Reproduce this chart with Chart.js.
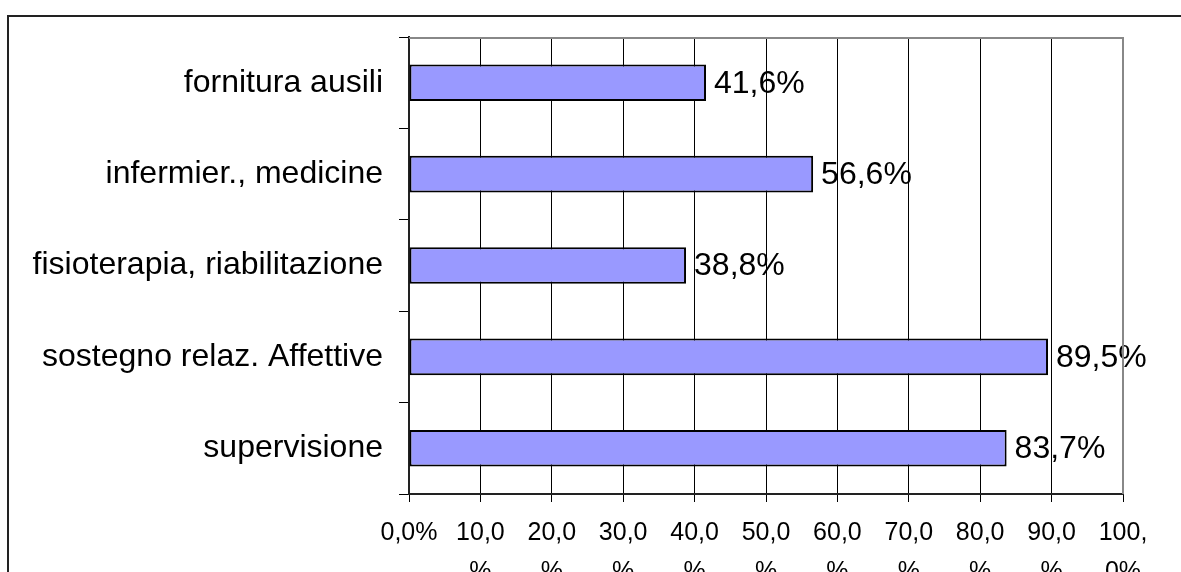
<!DOCTYPE html>
<html>
<head>
<meta charset="utf-8">
<script src="https://cdn.jsdelivr.net/npm/chart.js@4"></script>
<style>
  body { margin: 0; background: #fff; }
  #wrap { width: 1181px; height: 572px; }
</style>
</head>
<body>
<div id="wrap"><canvas id="myChart" width="1181" height="572"></canvas></div>
<script>
const categories = [
    'fornitura ausili',
    'infermier., medicine',
    'fisioterapia, riabilitazione',
    'sostegno relaz. Affettive',
    'supervisione'
];
const values = [41.6, 56.6, 38.8, 89.5, 83.7];
const xTickLabels = [
    '0,0%', ['10,0', '%'], ['20,0', '%'], ['30,0', '%'], ['40,0', '%'], ['50,0', '%'],
    ['60,0', '%'], ['70,0', '%'], ['80,0', '%'], ['90,0', '%'], ['100,', '0%']
];

const fontFamily = "'Liberation Sans', Arial, sans-serif";

// outer frame (top + left edge) and the gray plot border on top/right
const framePlugin = {
    id: 'frame',
    beforeDraw(chart) {
        const ctx = chart.ctx;
        ctx.save();
        ctx.fillStyle = '#fff';
        ctx.fillRect(0, 0, chart.width, chart.height);
        ctx.strokeStyle = '#222';
        ctx.lineWidth = 2;
        ctx.beginPath();
        ctx.moveTo(8, chart.height);
        ctx.lineTo(8, 16);
        ctx.lineTo(chart.width, 16);
        ctx.stroke();
        ctx.restore();
    },
    afterDraw(chart) {
        const a = chart.chartArea;
        const ctx = chart.ctx;
        ctx.save();
        ctx.strokeStyle = '#888';
        ctx.lineWidth = 2;
        ctx.beginPath();
        ctx.moveTo(a.left, a.top + 1);
        ctx.lineTo(a.right, a.top + 1);
        ctx.lineTo(a.right, a.bottom);
        ctx.stroke();
        ctx.restore();
    }
};

// value labels to the right of each bar
const valueLabels = {
    id: 'valueLabels',
    afterDatasetsDraw(chart) {
        const ctx = chart.ctx;
        const meta = chart.getDatasetMeta(0);
        ctx.save();
        ctx.font = '32px ' + fontFamily;
        ctx.fillStyle = '#000';
        ctx.textAlign = 'left';
        ctx.textBaseline = 'middle';
        meta.data.forEach((bar, i) => {
            const v = chart.data.datasets[0].data[i];
            ctx.fillText(v.toFixed(1).replace('.', ',') + '%', bar.x + 8, bar.y + 1);
        });
        ctx.restore();
    }
};

let myChart = document.getElementById('myChart').getContext('2d');
let barChart = new Chart(myChart, {
    type: 'bar',
    data: {
        labels: categories,
        datasets: [{
            data: values,
            backgroundColor: '#9999ff',
            borderColor: '#000',
            borderWidth: 2,
            borderSkipped: false,
            barPercentage: 0.4,
            categoryPercentage: 1
        }]
    },
    options: {
        indexAxis: 'y',
        responsive: false,
        animation: false,
        devicePixelRatio: 1,
        layout: {
            padding: { top: 37, right: 58, bottom: 0, left: 0 }
        },
        plugins: {
            legend: { display: false },
            tooltip: { enabled: false }
        },
        scales: {
            x: {
                min: 0,
                max: 100,
                afterFit: scale => { scale.height = 78; },
                ticks: {
                    stepSize: 10,
                    padding: 12,
                    color: '#000',
                    maxRotation: 0,
                    autoSkip: false,
                    font: { family: fontFamily, size: 25, lineHeight: 1.56 },
                    callback: (v, i) => xTickLabels[i]
                },
                grid: {
                    color: '#000',
                    lineWidth: 1,
                    tickLength: 8
                },
                border: { color: '#222', width: 2 }
            },
            y: {
                afterFit: scale => { scale.width = 409; },
                ticks: {
                    padding: 16,
                    color: '#000',
                    font: { family: fontFamily, size: 32 }
                },
                grid: {
                    offset: true,
                    drawOnChartArea: false,
                    color: '#000',
                    tickLength: 10
                },
                border: { color: '#222', width: 2 }
            }
        }
    },
    plugins: [framePlugin, valueLabels]
});
</script>
</body>
</html>
